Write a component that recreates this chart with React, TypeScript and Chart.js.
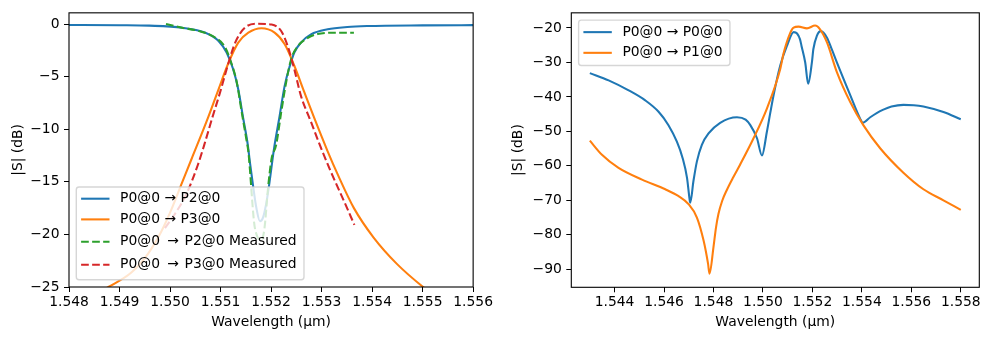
import React, { useEffect, useRef } from "react";
import { Chart, registerables } from "chart.js";

Chart.register(...registerables);

const FONT = '"DejaVu Sans", sans-serif';
const FS = 13.89;

const BLUE = "#1f77b4";
const ORANGE = "#ff7f0e";
const GREEN = "#2ca02c";
const RED = "#d62728";

// ---------- Left plot data ----------
const leftXTicks = [1.548, 1.549, 1.55, 1.551, 1.552, 1.553, 1.554, 1.555, 1.556];
const leftYTicks = [0, -5, -10, -15, -20, -25];

const p2Wl = [1.547, 1.548, 1.549, 1.54959, 1.55024, 1.5507, 1.55096, 1.55112, 1.55125, 1.55135, 1.55145, 1.55154, 1.55158, 1.55165, 1.55171, 1.55178, 1.55184, 1.55191, 1.55197, 1.55206, 1.55216, 1.55227, 1.55237, 1.55246, 1.55259, 1.55279, 1.55312, 1.55351, 1.5539, 1.555, 1.556, 1.557];
const p2Db = [-0.08, -0.09, -0.11, -0.15, -0.35, -0.82, -1.6, -2.7, -4.3, -6.2, -9.0, -11.5, -13.1, -15.6, -17.5, -18.75, -18.4, -16.9, -15.0, -11.8, -9.0, -5.85, -4.0, -2.7, -1.76, -0.98, -0.5, -0.28, -0.19, -0.12, -0.1, -0.09];

const p3Wl = [1.547, 1.548, 1.54878, 1.54924, 1.54957, 1.54983, 1.55003, 1.55022, 1.55042, 1.55076, 1.55096, 1.55116, 1.55135, 1.55155, 1.55181, 1.55207, 1.55227, 1.55246, 1.55266, 1.55286, 1.55312, 1.55331, 1.55364, 1.55403, 1.55449, 1.55501, 1.556, 1.557];
const p3Db = [-29.5, -27.2, -25.0, -23.6, -21.8, -19.7, -17.6, -15.3, -12.9, -8.8, -6.2, -3.65, -1.76, -0.82, -0.4, -0.82, -1.92, -3.96, -6.5, -9.0, -12.1, -14.2, -17.5, -20.3, -22.8, -25.0, -28.5, -31.0];

const p2MeasWl = [1.54992, 1.55024, 1.55057, 1.5509, 1.55109, 1.55122, 1.55132, 1.55142, 1.55152, 1.55155, 1.55168, 1.55181, 1.55187, 1.55194, 1.55201, 1.5521, 1.5522, 1.5523, 1.5524, 1.55253, 1.55273, 1.55292, 1.55325, 1.55364];
const p2MeasDb = [0.0, -0.35, -0.66, -1.3, -2.2, -3.8, -5.5, -8.4, -11.2, -12.1, -19.4, -20.5, -19.4, -15.6, -12.8, -11.5, -8.4, -5.5, -3.3, -2.1, -1.3, -0.95, -0.82, -0.82];

const p3MeasWl = [1.5499, 1.55009, 1.55032, 1.55055, 1.55067, 1.55083, 1.55099, 1.55116, 1.55129, 1.55148, 1.55174, 1.55201, 1.5522, 1.55233, 1.55246, 1.55259, 1.55279, 1.55299, 1.55318, 1.55345, 1.55365];
const p3MeasDb = [-19.4, -18.1, -16.2, -13.4, -11.6, -9.0, -6.5, -3.65, -1.76, -0.35, 0.03, -0.04, -0.66, -2.1, -4.3, -6.8, -9.3, -11.8, -14.0, -16.9, -19.1];

const leftLabels = [
  "P0@0 \u2192 P2@0",
  "P0@0 \u2192 P3@0",
  "P0@0 \u2009\u2192\u200a P2@0 Measured",
  "P0@0 \u2009\u2192\u200a P3@0 Measured",
];

// ---------- Right plot data ----------
const rightXTicks = [1.544, 1.546, 1.548, 1.55, 1.552, 1.554, 1.556, 1.558];
const rightYTicks = [-20, -30, -40, -50, -60, -70, -80, -90];

const p0Wl = [1.543, 1.54376, 1.54457, 1.54524, 1.54578, 1.54618, 1.54652, 1.54675, 1.54693, 1.54703, 1.54706, 1.54719, 1.54733, 1.54753, 1.5478, 1.54827, 1.54895, 1.5493, 1.54949, 1.54976, 1.54996, 1.55016, 1.5503, 1.55043, 1.5507, 1.55097, 1.55124, 1.55138, 1.5515, 1.55156, 1.55171, 1.55183, 1.55198, 1.55204, 1.55218, 1.55234, 1.55259, 1.55279, 1.55299, 1.55353, 1.55393, 1.55404, 1.55434, 1.5546, 1.55487, 1.5552, 1.55568, 1.5561, 1.55649, 1.5573, 1.558];
const p0Db = [-33.1, -35.2, -38.1, -41.0, -44.3, -48.2, -53.0, -57.7, -63.5, -69.5, -70.7, -64.4, -58.7, -53.9, -50.6, -47.5, -45.9, -46.6, -48.2, -52.0, -57.0, -50.1, -44.5, -39.5, -30.9, -25.2, -21.2, -21.6, -23.3, -25.2, -30.0, -36.2, -30.0, -26.1, -22.3, -20.9, -22.8, -26.3, -30.0, -39.5, -46.3, -47.5, -45.9, -44.7, -43.7, -42.8, -42.3, -42.4, -42.8, -44.4, -46.5];

const p1Wl = [1.543, 1.54349, 1.54416, 1.54511, 1.54605, 1.54659, 1.54699, 1.54733, 1.5476, 1.54778, 1.54784, 1.548, 1.5481, 1.5482, 1.54835, 1.54854, 1.5488, 1.54908, 1.54962, 1.55016, 1.5507, 1.55083, 1.5511, 1.55124, 1.55144, 1.55178, 1.55211, 1.55231, 1.55259, 1.55299, 1.55353, 1.55406, 1.55474, 1.55568, 1.55649, 1.5573, 1.558];
const p1Db = [-52.7, -56.8, -60.6, -64.0, -66.8, -68.8, -71.1, -75.0, -81.7, -88.4, -91.3, -83.6, -78.0, -74.0, -70.2, -67.0, -63.3, -59.6, -52.0, -43.4, -31.9, -27.5, -21.5, -19.9, -19.6, -20.1, -19.3, -20.4, -24.2, -32.8, -41.5, -48.2, -54.9, -62.0, -66.8, -70.0, -72.8];

const rightLabels = ["P0@0 \u2192 P0@0", "P0@0 \u2192 P1@0"];

// ---------- helpers ----------
const pts = (xs: number[], ys: number[]) => xs.map((x, i) => ({ x, y: ys[i] }));
const fmtNum = (v: number) => (v < 0 ? "\u2212" + String(Math.abs(v)) : String(v));

type LegendCfg = {
  labels: string[];
  colors: string[];
  dashed: boolean[];
  rows: number[];
  height: number;
  anchor: "top" | "bottom";
};

const decorPlugin = (cfg: LegendCfg) => ({
  id: "decor",
  afterDatasetsDraw(chart: any) {
    const { ctx, chartArea: a } = chart;
    ctx.save();
    ctx.strokeStyle = "#000";
    ctx.lineWidth = 1.1;
    ctx.setLineDash([]);
    ctx.strokeRect(a.left, a.top, a.right - a.left, a.bottom - a.top);
    ctx.font = `${FS}px ${FONT}`;
    const inset = 7.3;
    const textX = 43.8;
    const tw = Math.max(...cfg.labels.map((l) => ctx.measureText(l).width));
    const w = textX + tw + 7.3;
    const h = cfg.height;
    const x0 = a.left + inset;
    const y0 = cfg.anchor === "bottom" ? a.bottom - inset - h : a.top + inset;
    const r = 2.8;
    ctx.beginPath();
    ctx.moveTo(x0 + r, y0);
    ctx.lineTo(x0 + w - r, y0);
    ctx.arcTo(x0 + w, y0, x0 + w, y0 + r, r);
    ctx.lineTo(x0 + w, y0 + h - r);
    ctx.arcTo(x0 + w, y0 + h, x0 + w - r, y0 + h, r);
    ctx.lineTo(x0 + r, y0 + h);
    ctx.arcTo(x0, y0 + h, x0, y0 + h - r, r);
    ctx.lineTo(x0, y0 + r);
    ctx.arcTo(x0, y0, x0 + r, y0, r);
    ctx.closePath();
    ctx.fillStyle = "rgba(255,255,255,0.8)";
    ctx.fill();
    ctx.strokeStyle = "rgba(204,204,204,0.8)";
    ctx.lineWidth = 1.39;
    ctx.stroke();
    cfg.labels.forEach((lab, i) => {
      const y = y0 + cfg.rows[i];
      ctx.beginPath();
      ctx.strokeStyle = cfg.colors[i];
      ctx.lineWidth = 2.08;
      ctx.lineCap = "butt";
      ctx.setLineDash(cfg.dashed[i] ? [7.7, 3.33] : []);
      ctx.moveTo(x0 + 4.8, y);
      ctx.lineTo(x0 + 33.2, y);
      ctx.stroke();
      ctx.setLineDash([]);
      ctx.fillStyle = "#000";
      ctx.textBaseline = "middle";
      ctx.textAlign = "left";
      ctx.fillText(lab, x0 + textX, y);
    });
    ctx.restore();
  },
});

function lineDs(label: string, data: any[], color: string, dashed: boolean, order: number) {
  return {
    label,
    data,
    borderColor: color,
    backgroundColor: color,
    borderWidth: 2.08,
    borderDash: dashed ? [7.7, 3.33] : [],
    pointRadius: 0,
    fill: false,
    cubicInterpolationMode: "monotone",
    borderJoinStyle: "round",
    clip: 0,
    order,
  };
}

function makeScales(opts: {
  xMin: number; xMax: number; yMin: number; yMax: number;
  xTicks: number[]; yTicks: number[]; yWidth: number; xHeight: number; yTitlePad: number;
}) {
  const font = { family: FONT, size: FS };
  return {
    x: {
      type: "linear",
      min: opts.xMin,
      max: opts.xMax,
      afterBuildTicks: (s: any) => { s.ticks = opts.xTicks.map((v) => ({ value: v })); },
      afterFit: (s: any) => { s.height = opts.xHeight; },
      ticks: {
        autoSkip: false, maxRotation: 0, minRotation: 0, padding: 2, color: "#000", font,
        callback: (v: any) => Number(v).toFixed(3),
      },
      grid: { display: true, drawOnChartArea: false, drawTicks: true, tickLength: 5, tickWidth: 1, tickColor: "#000" },
      border: { display: false },
      title: { display: true, text: "Wavelength (\u00b5m)", color: "#000", font, padding: { top: 0, bottom: 9.7 } },
    },
    y: {
      type: "linear",
      min: opts.yMin,
      max: opts.yMax,
      afterBuildTicks: (s: any) => { s.ticks = opts.yTicks.map((v) => ({ value: v })); },
      afterFit: (s: any) => { s.width = opts.yWidth; },
      ticks: { autoSkip: false, padding: 4.5, color: "#000", font, callback: (v: any) => fmtNum(Number(v)) },
      grid: { display: true, drawOnChartArea: false, drawTicks: true, tickLength: 5, tickWidth: 1, tickColor: "#000" },
      border: { display: false },
      title: { display: true, text: "|S| (dB)", color: "#000", font, padding: { top: opts.yTitlePad, bottom: 0 } },
    },
  };
}

export default function App() {
  const leftRef = useRef<HTMLCanvasElement>(null);
  const rightRef = useRef<HTMLCanvasElement>(null);

  useEffect(() => {
    const left = new Chart(leftRef.current as HTMLCanvasElement, {
      type: "line",
      data: {
        datasets: [
          lineDs(leftLabels[0], pts(p2Wl, p2Db), BLUE, false, 3),
          lineDs(leftLabels[1], pts(p3Wl, p3Db), ORANGE, false, 2),
          lineDs(leftLabels[2], pts(p2MeasWl, p2MeasDb), GREEN, true, 1),
          lineDs(leftLabels[3], pts(p3MeasWl, p3MeasDb), RED, true, 0),
        ] as any,
      },
      options: {
        animation: false,
        responsive: false,
        devicePixelRatio: 1,
        layout: { padding: { top: 10, right: 18, left: 0, bottom: 0 } },
        plugins: { legend: { display: false }, tooltip: { enabled: false } },
        scales: makeScales({
          xMin: 1.548, xMax: 1.556, yMin: -25, yMax: 1.07,
          xTicks: leftXTicks, yTicks: leftYTicks, yWidth: 69, xHeight: 53, yTitlePad: 9.7,
        }) as any,
      },
      plugins: [decorPlugin({
        labels: leftLabels,
        colors: [BLUE, ORANGE, GREEN, RED],
        dashed: [false, false, true, true],
        rows: [11.7, 32.4, 54.7, 77.7],
        height: 92.7,
        anchor: "bottom",
      })],
    });

    const right = new Chart(rightRef.current as HTMLCanvasElement, {
      type: "line",
      data: {
        datasets: [
          lineDs(rightLabels[0], pts(p0Wl, p0Db), BLUE, false, 1),
          lineDs(rightLabels[1], pts(p1Wl, p1Db), ORANGE, false, 0),
        ] as any,
      },
      options: {
        animation: false,
        responsive: false,
        devicePixelRatio: 1,
        layout: { padding: { top: 10, right: 10.7, left: 0, bottom: 0 } },
        plugins: { legend: { display: false }, tooltip: { enabled: false } },
        scales: makeScales({
          xMin: 1.54225, xMax: 1.55875, yMin: -95.25, yMax: -15.6,
          xTicks: rightXTicks, yTicks: rightYTicks, yWidth: 76.3, xHeight: 52.7, yTitlePad: 14.7,
        }) as any,
      },
      plugins: [decorPlugin({
        labels: rightLabels,
        colors: [BLUE, ORANGE],
        dashed: [false, false],
        rows: [12, 32.7],
        height: 45.4,
        anchor: "top",
      })],
    });

    return () => {
      left.destroy();
      right.destroy();
    };
  }, []);

  return (
    <div style={{ position: "absolute", left: 0, top: 0, width: 990, height: 340, background: "#fff" }}>
      <canvas ref={leftRef} width={495} height={340} style={{ position: "absolute", left: 0, top: 0, width: 495, height: 340 }} />
      <canvas ref={rightRef} width={495} height={340} style={{ position: "absolute", left: 495, top: 0, width: 495, height: 340 }} />
    </div>
  );
}
